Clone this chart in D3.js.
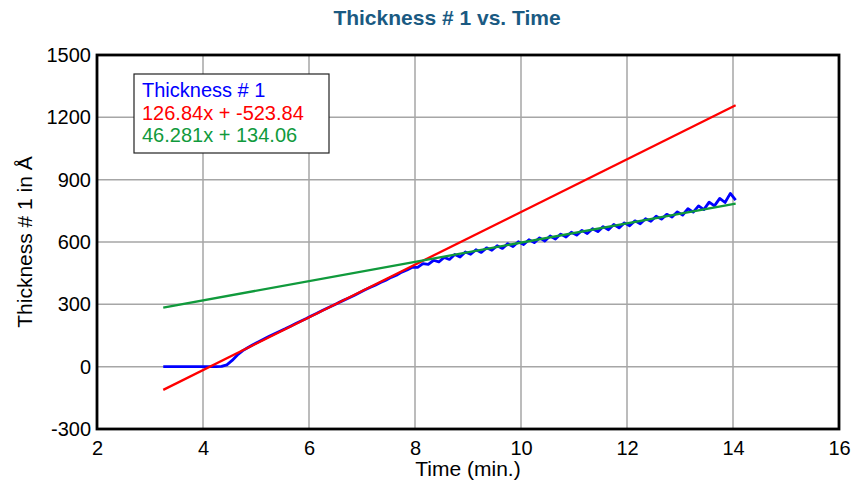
<!DOCTYPE html>
<html>
<head>
<meta charset="utf-8">
<script src="https://cdn.jsdelivr.net/npm/d3@7"></script>
<style>
  body { margin: 0; background: #fff; }
  svg text { font-family: "Liberation Sans", Arial, sans-serif; }
</style>
</head>
<body>
<div id="chart"></div>
<script>
// measured thickness (time in min, thickness in angstrom)
var times = [3.25, 3.35, 3.45, 3.55, 3.65, 3.75, 3.85, 3.95, 4.05, 4.15, 4.25,
  4.35, 4.45, 4.55, 4.65, 4.75, 4.85, 4.95, 5.05, 5.15, 5.25,
  5.35, 5.45, 5.55, 5.65, 5.75, 5.85, 5.95, 6.05, 6.15, 6.25,
  6.35, 6.45, 6.55, 6.65, 6.75, 6.85, 6.95, 7.05, 7.15, 7.25,
  7.35, 7.45, 7.55, 7.65, 7.75, 7.85, 7.95, 8.05, 8.15, 8.25,
  8.35, 8.45, 8.55, 8.65, 8.75, 8.85, 8.95, 9.05, 9.15, 9.25,
  9.35, 9.45, 9.55, 9.65, 9.75, 9.85, 9.95, 10.05, 10.15, 10.25,
  10.35, 10.45, 10.55, 10.65, 10.75, 10.85, 10.95, 11.05, 11.15, 11.25,
  11.35, 11.45, 11.55, 11.65, 11.75, 11.85, 11.95, 12.05, 12.15, 12.25,
  12.35, 12.45, 12.55, 12.65, 12.75, 12.85, 12.95, 13.05, 13.15, 13.25,
  13.35, 13.45, 13.55, 13.65, 13.75, 13.85, 13.95, 14.05];
var thickness = [0, 0, 0, 0, 0, 0, 0, 0, 0, 0, 0,
  1, 9, 30, 56, 77, 92, 107, 120, 133, 146,
  158, 170, 182, 195, 208, 220, 232, 245, 257, 270,
  282, 294, 307, 319, 331, 343, 356, 369, 381, 392,
  405, 416, 430, 440, 455, 465, 478, 478, 496, 492,
  512, 504, 526, 516, 540, 528, 552, 541, 563, 550,
  572, 560, 582, 569, 592, 578, 601, 588, 611, 597,
  620, 605, 629, 614, 638, 624, 647, 633, 656, 641,
  664, 650, 674, 659, 684, 668, 692, 678, 702, 688,
  712, 700, 724, 710, 733, 720, 745, 730, 760, 744,
  774, 756, 792, 774, 810, 790, 834, 802];

// linear fits shown in the legend
var fitRed = { slope: 126.84, intercept: -523.84, label: "126.84x + -523.84" };
var fitGreen = { slope: 46.281, intercept: 134.06, label: "46.281x + 134.06" };
var fitRange = [3.25, 14.05];

var xTicks = [2, 4, 6, 8, 10, 12, 14, 16];
var yTicks = [-300, 0, 300, 600, 900, 1200, 1500];

var width = 855, height = 488;
var margin = { top: 55, right: 16, bottom: 59, left: 97 };
var w = width - margin.left - margin.right,
  h = height - margin.top - margin.bottom;

var svg = d3.select("#chart").append("svg")
  .attr("width", width)
  .attr("height", height);

var x = d3.scaleLinear().domain([2, 16]).range([0, w]);
var y = d3.scaleLinear().domain([-300, 1500]).range([h, 0]);

var g = svg.append("g")
  .attr("transform", "translate(" + margin.left + "," + margin.top + ")");

// grid
g.append("g").selectAll("line").data(xTicks).enter().append("line")
  .attr("x1", function (d) { return x(d); })
  .attr("x2", function (d) { return x(d); })
  .attr("y1", 0).attr("y2", h)
  .attr("stroke", "#a6a6a6").attr("stroke-width", 1.5);
g.append("g").selectAll("line").data(yTicks).enter().append("line")
  .attr("y1", function (d) { return y(d); })
  .attr("y2", function (d) { return y(d); })
  .attr("x1", 0).attr("x2", w)
  .attr("stroke", "#a6a6a6").attr("stroke-width", 1.5);

// axes labels
var plain = function (d) { return String(d); };
var xAxis = d3.axisBottom(x).tickValues(xTicks).tickFormat(plain).tickSize(0).tickPadding(12);
var yAxis = d3.axisLeft(y).tickValues(yTicks).tickFormat(plain).tickSize(0).tickPadding(6);

var gx = g.append("g").attr("transform", "translate(0," + h + ")").call(xAxis);
var gy = g.append("g").call(yAxis);
[gx, gy].forEach(function (a) {
  a.select(".domain").remove();
  a.selectAll("text")
    .attr("font-size", 20)
    .attr("fill", "#000")
    .style("font-family", "'Liberation Sans', Arial, sans-serif");
});

svg.append("defs").append("clipPath").attr("id", "plotclip")
  .append("rect").attr("width", w).attr("height", h);

var plot = g.append("g").attr("clip-path", "url(#plotclip)");

var data = times.map(function (t, i) { return { t: t, v: thickness[i] }; });

var line = d3.line()
  .x(function (d) { return x(d.t); })
  .y(function (d) { return y(d.v); });

plot.append("path")
  .datum(data)
  .attr("fill", "none")
  .attr("stroke", "#0000ff")
  .attr("stroke-width", 2.8)
  .attr("stroke-linejoin", "round")
  .attr("d", line);

function fitLine(fit) {
  return fitRange.map(function (t) { return { t: t, v: fit.slope * t + fit.intercept }; });
}

plot.append("path")
  .datum(fitLine(fitRed))
  .attr("fill", "none")
  .attr("stroke", "#ff0000")
  .attr("stroke-width", 2.3)
  .attr("d", line);

plot.append("path")
  .datum(fitLine(fitGreen))
  .attr("fill", "none")
  .attr("stroke", "#109a3c")
  .attr("stroke-width", 2.3)
  .attr("d", line);

// frame
g.append("rect")
  .attr("width", w).attr("height", h)
  .attr("fill", "none")
  .attr("stroke", "#000")
  .attr("stroke-width", 2.8);

// legend
var legend = svg.append("g").attr("transform", "translate(134,74)");
legend.append("rect")
  .attr("width", 195).attr("height", 79)
  .attr("fill", "#fff")
  .attr("stroke", "#222")
  .attr("stroke-width", 1.2);
var legendItems = [
  { label: "Thickness # 1", color: "#0000ff" },
  { label: fitRed.label, color: "#ff0000" },
  { label: fitGreen.label, color: "#109a3c" }
];
legend.selectAll("text").data(legendItems).enter().append("text")
  .attr("x", 8)
  .attr("y", function (d, i) { return 23 + i * 22.5; })
  .attr("font-size", 20)
  .attr("fill", function (d) { return d.color; })
  .text(function (d) { return d.label; });

// title
svg.append("text")
  .attr("x", 447).attr("y", 25)
  .attr("text-anchor", "middle")
  .attr("font-size", 21)
  .attr("font-weight", "bold")
  .attr("fill", "#1a5a82")
  .text("Thickness # 1 vs. Time");

// axis titles
svg.append("text")
  .attr("x", margin.left + w / 2).attr("y", 476)
  .attr("text-anchor", "middle")
  .attr("font-size", 21)
  .text("Time (min.)");

svg.append("text")
  .attr("transform", "translate(32," + (margin.top + h / 2) + ") rotate(-90)")
  .attr("text-anchor", "middle")
  .attr("font-size", 21)
  .text("Thickness # 1 in Å");
</script>
</body>
</html>
